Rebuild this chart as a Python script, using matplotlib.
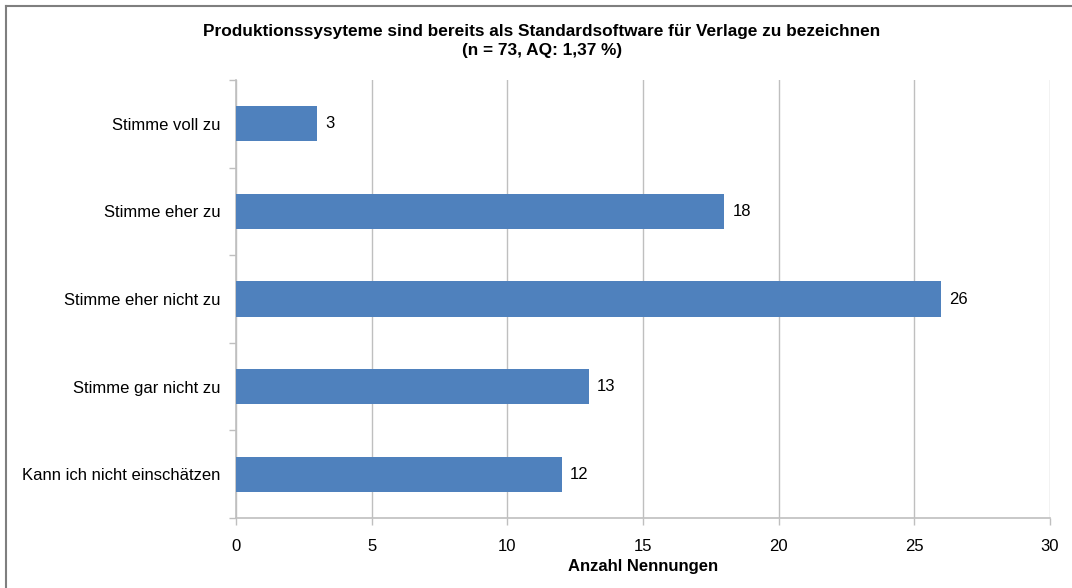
import matplotlib
matplotlib.use("Agg")
import matplotlib.pyplot as plt
from matplotlib.lines import Line2D

plt.rcParams['font.family'] = ['Liberation Sans', 'DejaVu Sans']

categories = ["Stimme voll zu", "Stimme eher zu", "Stimme eher nicht zu",
              "Stimme gar nicht zu", "Kann ich nicht einschätzen"]
values = [3, 18, 26, 13, 12]
xticks = [0, 5, 10, 15, 20, 25, 30]
title = "Produktionssysyteme sind bereits als Standardsoftware für Verlage zu bezeichnen\n(n = 73, AQ: 1,37 %)"
xlabel = "Anzahl Nennungen"

W, H = 1072, 588
fig = plt.figure(figsize=(W / 100, H / 100), dpi=100)
ax = fig.add_axes([236 / W, 1 - 518 / H, (1050 - 236) / W, (518 - 80) / H])

fs = 12
bar_color = "#4F81BD"
grid_color = "#BFBFBF"
n = len(categories)
ypos = list(range(n))
ax.barh(ypos, values, height=0.4, color=bar_color, zorder=3)
for y, v in zip(ypos, values):
    ax.text(v + 0.3, y, str(v), va="center", ha="left", fontsize=fs, color="#000000", zorder=4)

ax.set_ylim(n - 0.5, -0.5)
ax.set_xlim(0, 30)
ax.set_xticks(xticks)
ax.set_xticklabels([str(t) for t in xticks], fontsize=fs)
ax.set_yticks(ypos)
ax.set_yticklabels(categories, fontsize=fs)
ax.tick_params(axis="y", which="major", length=0, pad=11)
ax.set_yticks([i - 0.5 for i in range(n + 1)], minor=True)
ax.tick_params(axis="y", which="minor", length=5, color=grid_color, width=1)
ax.tick_params(axis="x", length=5, color=grid_color, width=1, pad=10)

ax.grid(axis="x", color=grid_color, linewidth=1, zorder=0)
for s in ["top", "right"]:
    ax.spines[s].set_visible(False)
for s in ["left", "bottom"]:
    ax.spines[s].set_color(grid_color)
    ax.spines[s].set_linewidth(1.2)

ax.set_xlabel(xlabel, fontsize=fs, fontweight="bold", labelpad=4)
fig.text(542 / W, 1 - 41 / H, title, ha="center", va="center",
         fontsize=12.4, fontweight="bold", linespacing=1.35)

# outer frame (top and left edges visible)
fig.add_artist(Line2D([6 / W, 1], [1 - 6 / H, 1 - 6 / H], color="#7F7F7F", linewidth=1.5, transform=fig.transFigure))
fig.add_artist(Line2D([6 / W, 6 / W], [0, 1 - 6 / H], color="#7F7F7F", linewidth=1.5, transform=fig.transFigure))

fig.savefig("out.png", dpi=100)
